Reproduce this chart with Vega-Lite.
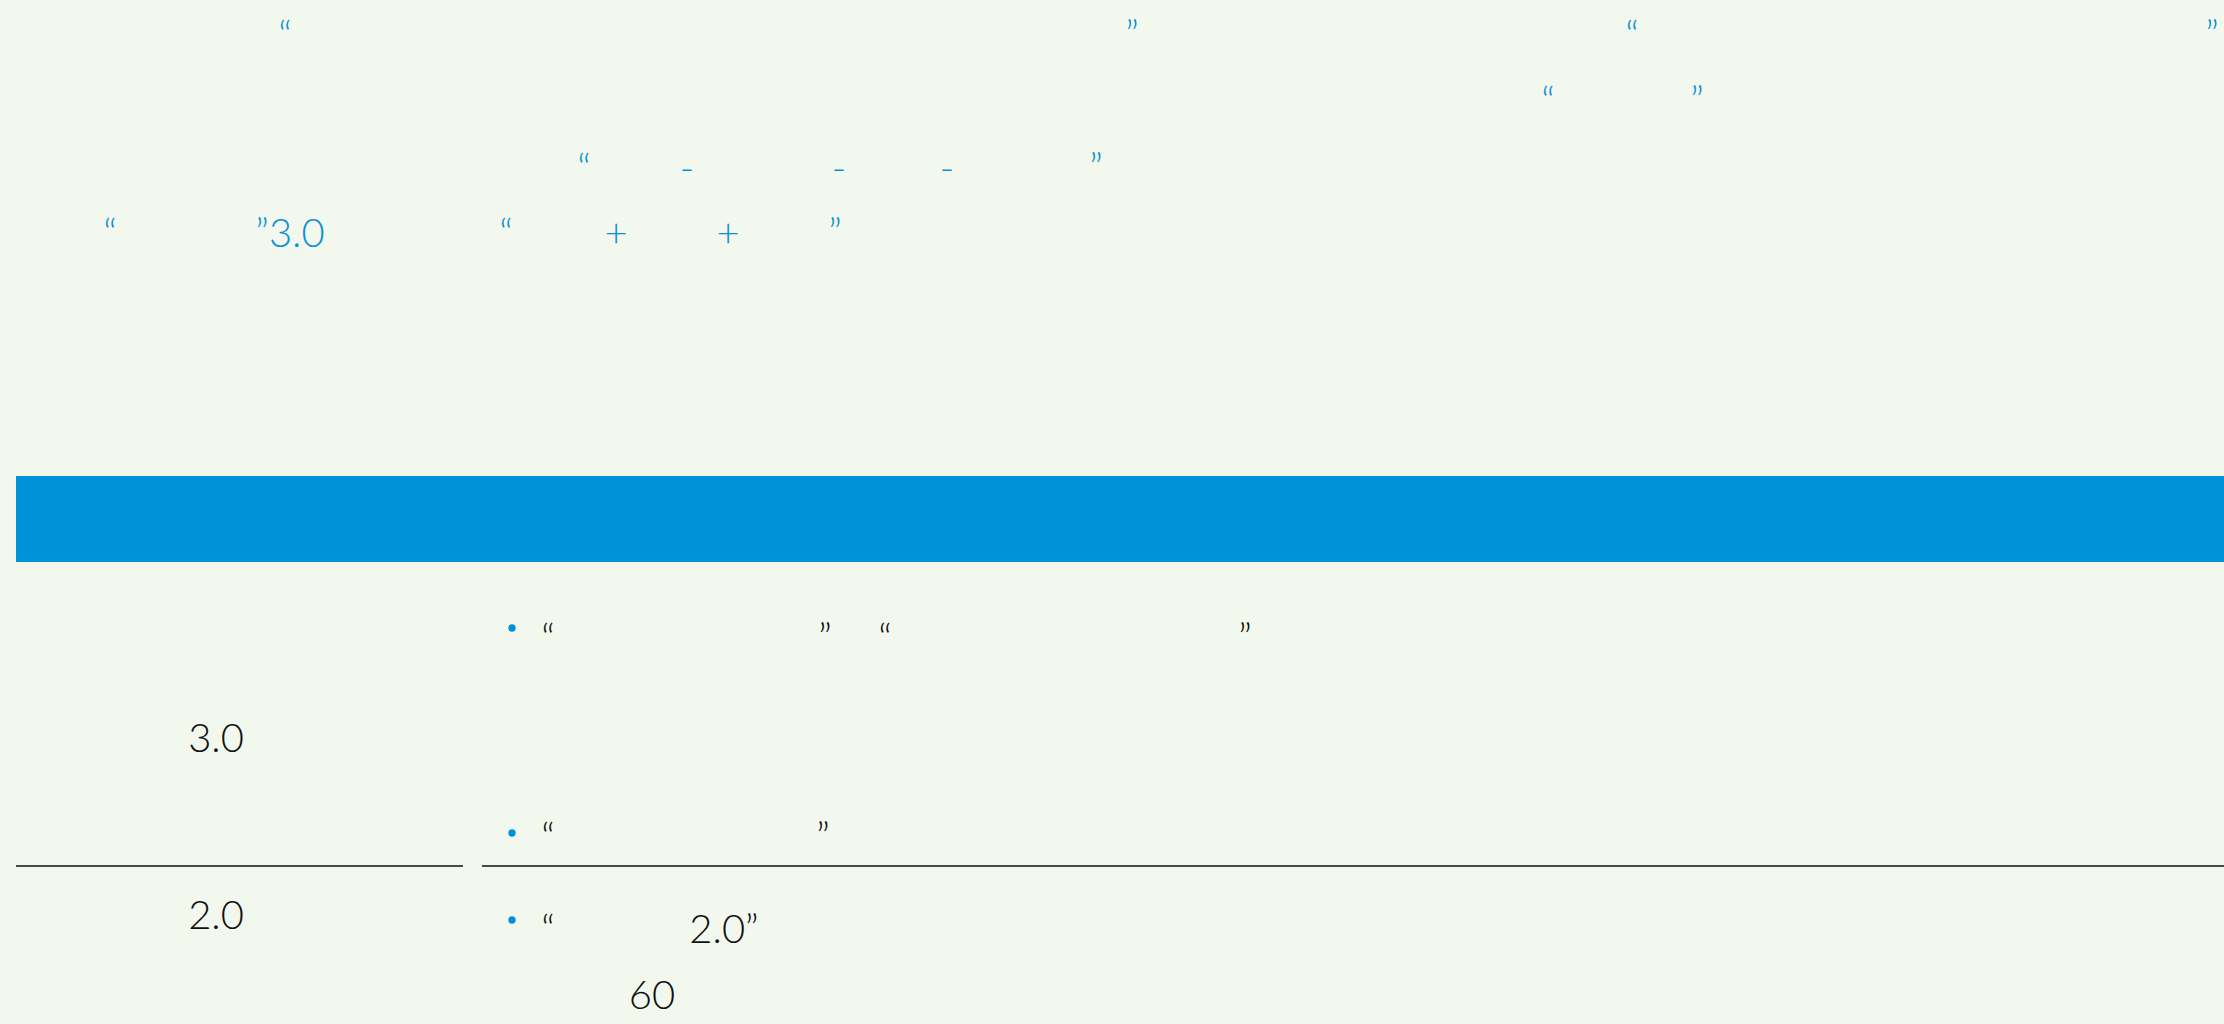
{
  "$schema": "https://vega.github.io/schema/vega-lite/v6.json",
  "width": 2224,
  "height": 1024,
  "autosize": {"type": "none"},
  "padding": 0,
  "background": "#F2F8EE",
  "config": {"view": {"stroke": null}},
  "datasets": {
    "band": [{"x": 16, "x2": 2240, "y": 476, "y2": 562}],
    "lines": [{"x": 16, "x2": 463, "y": 866}, {"x": 482, "x2": 2240, "y": 866}],
    "bullets": [{"x": 512, "y": 628}, {"x": 512, "y": 833}, {"x": 512, "y": 920}],
    "texts": [
      {"x": 285, "y": 49, "t": "“", "c": "blue"},
      {"x": 1132, "y": 49, "t": "”", "c": "blue"},
      {"x": 1632, "y": 49, "t": "“", "c": "blue"},
      {"x": 2212, "y": 49, "t": "”", "c": "blue"},
      {"x": 1548, "y": 115, "t": "“", "c": "blue"},
      {"x": 1697, "y": 115, "t": "”", "c": "blue"},
      {"x": 584, "y": 182, "t": "“", "c": "blue"},
      {"x": 687, "y": 182, "t": "-", "c": "blue"},
      {"x": 839, "y": 182, "t": "-", "c": "blue"},
      {"x": 947, "y": 182, "t": "-", "c": "blue"},
      {"x": 1096, "y": 182, "t": "”", "c": "blue"},
      {"x": 110, "y": 247, "t": "“", "c": "blue"},
      {"x": 290, "y": 247, "t": "”3.0", "c": "blue"},
      {"x": 506, "y": 247, "t": "“", "c": "blue"},
      {"x": 616, "y": 247, "t": "+", "c": "blue"},
      {"x": 728, "y": 247, "t": "+", "c": "blue"},
      {"x": 835, "y": 247, "t": "”", "c": "blue"},
      {"x": 216, "y": 752, "t": "3.0", "c": "black"},
      {"x": 216, "y": 929, "t": "2.0", "c": "black"},
      {"x": 548, "y": 652, "t": "“", "c": "black"},
      {"x": 825, "y": 652, "t": "”", "c": "black"},
      {"x": 885, "y": 652, "t": "“", "c": "black"},
      {"x": 1245, "y": 652, "t": "”", "c": "black"},
      {"x": 548, "y": 851, "t": "“", "c": "black"},
      {"x": 823, "y": 851, "t": "”", "c": "black"},
      {"x": 548, "y": 943, "t": "“", "c": "black"},
      {"x": 724, "y": 943, "t": "2.0”", "c": "black"},
      {"x": 652, "y": 1009, "t": "60", "c": "black"}
    ]
  },
  "layer": [
    {
      "data": {"name": "band"},
      "mark": {"type": "rect", "color": "#0092D8"},
      "encoding": {
        "x": {"field": "x", "type": "quantitative", "scale": {"domain": [0, 2224], "nice": false, "zero": false}, "axis": null},
        "x2": {"field": "x2"},
        "y": {"field": "y", "type": "quantitative", "scale": {"domain": [0, 1024], "nice": false, "zero": false, "reverse": true}, "axis": null},
        "y2": {"field": "y2"}
      }
    },
    {
      "data": {"name": "lines"},
      "mark": {"type": "rule", "color": "#111111", "strokeWidth": 1.6},
      "encoding": {
        "x": {"field": "x", "type": "quantitative", "scale": {"domain": [0, 2224], "nice": false, "zero": false}, "axis": null},
        "x2": {"field": "x2"},
        "y": {"field": "y", "type": "quantitative", "scale": {"domain": [0, 1024], "nice": false, "zero": false, "reverse": true}, "axis": null}
      }
    },
    {
      "data": {"name": "bullets"},
      "mark": {"type": "point", "shape": "circle", "filled": true, "size": 55, "color": "#0092D8", "opacity": 1},
      "encoding": {
        "x": {"field": "x", "type": "quantitative", "scale": {"domain": [0, 2224], "nice": false, "zero": false}, "axis": null},
        "y": {"field": "y", "type": "quantitative", "scale": {"domain": [0, 1024], "nice": false, "zero": false, "reverse": true}, "axis": null}
      }
    },
    {
      "data": {"name": "texts"},
      "mark": {"type": "text", "font": "Lato", "fontSize": 40, "fontWeight": 300, "align": "center", "baseline": "alphabetic"},
      "encoding": {
        "x": {"field": "x", "type": "quantitative", "scale": {"domain": [0, 2224], "nice": false, "zero": false}, "axis": null},
        "y": {"field": "y", "type": "quantitative", "scale": {"domain": [0, 1024], "nice": false, "zero": false, "reverse": true}, "axis": null},
        "text": {"field": "t"},
        "color": {"field": "c", "type": "nominal", "scale": {"domain": ["blue", "black"], "range": ["#0A90D6", "#111111"]}, "legend": null}
      }
    }
  ]
}
